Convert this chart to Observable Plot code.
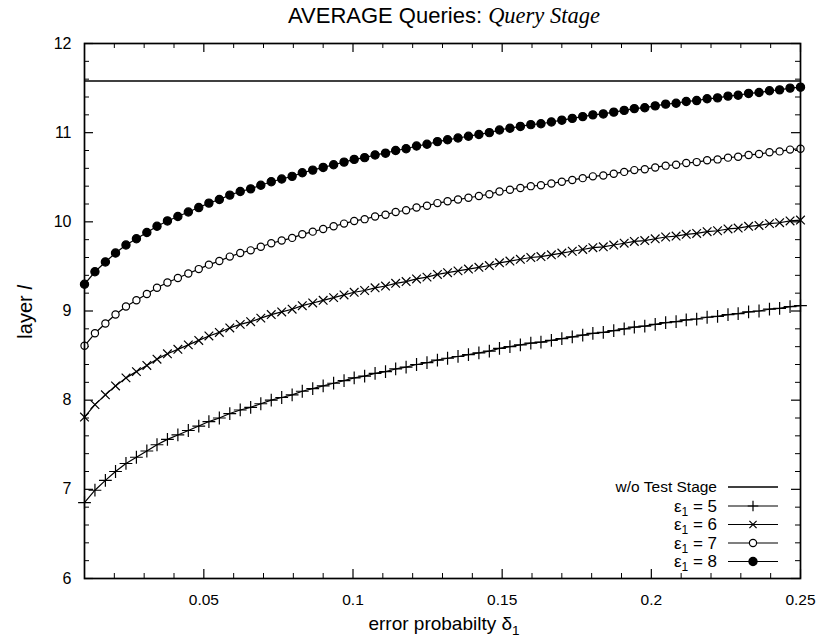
<!DOCTYPE html>
<html><head><meta charset="utf-8">
<script src="https://cdn.jsdelivr.net/npm/d3@7"></script>
<script src="https://cdn.jsdelivr.net/npm/@observablehq/plot@0.6"></script>
<style>body{margin:0;background:#fff}svg{display:block}</style>
</head><body><div id="chart"></div>
<script>
// ---- data ----
const delta = [0.0100,0.0135,0.0170,0.0204,0.0239,0.0274,0.0309,0.0343,0.0378,0.0413,0.0448,0.0483,0.0517,0.0552,0.0587,0.0622,0.0657,0.0691,0.0726,0.0761,0.0796,0.0830,0.0865,0.0900,0.0935,0.0970,0.1004,0.1039,0.1074,0.1109,0.1143,0.1178,0.1213,0.1248,0.1283,0.1317,0.1352,0.1387,0.1422,0.1457,0.1491,0.1526,0.1561,0.1596,0.1630,0.1665,0.1700,0.1735,0.1770,0.1804,0.1839,0.1874,0.1909,0.1943,0.1978,0.2013,0.2048,0.2083,0.2117,0.2152,0.2187,0.2222,0.2257,0.2291,0.2326,0.2361,0.2396,0.2430,0.2465,0.2500];
const eps8 = [9.30,9.44,9.55,9.65,9.74,9.81,9.88,9.95,10.01,10.06,10.11,10.16,10.21,10.25,10.30,10.34,10.37,10.41,10.45,10.48,10.51,10.55,10.58,10.61,10.64,10.67,10.70,10.72,10.75,10.77,10.80,10.82,10.85,10.87,10.90,10.92,10.94,10.96,10.98,11.00,11.03,11.05,11.07,11.09,11.10,11.12,11.14,11.16,11.18,11.20,11.21,11.23,11.25,11.27,11.28,11.30,11.32,11.33,11.35,11.36,11.38,11.39,11.41,11.42,11.44,11.45,11.47,11.48,11.50,11.51];
const eps7 = [8.61,8.75,8.86,8.96,9.05,9.12,9.19,9.26,9.32,9.37,9.42,9.47,9.52,9.56,9.61,9.65,9.68,9.72,9.76,9.79,9.82,9.86,9.89,9.92,9.95,9.98,10.01,10.03,10.06,10.08,10.11,10.13,10.16,10.18,10.21,10.23,10.25,10.27,10.29,10.31,10.34,10.36,10.38,10.40,10.41,10.43,10.45,10.47,10.49,10.51,10.52,10.54,10.56,10.58,10.59,10.61,10.63,10.64,10.66,10.67,10.69,10.70,10.72,10.73,10.75,10.76,10.78,10.79,10.81,10.82];
const eps6 = [7.81,7.95,8.06,8.16,8.25,8.32,8.39,8.46,8.52,8.57,8.62,8.67,8.72,8.76,8.81,8.85,8.88,8.92,8.96,8.99,9.02,9.06,9.09,9.12,9.15,9.18,9.21,9.23,9.26,9.28,9.31,9.33,9.36,9.38,9.41,9.43,9.45,9.47,9.49,9.51,9.54,9.56,9.58,9.60,9.61,9.63,9.65,9.67,9.69,9.71,9.72,9.74,9.76,9.78,9.79,9.81,9.83,9.84,9.86,9.87,9.89,9.90,9.92,9.93,9.95,9.96,9.98,9.99,10.01,10.02];
const eps5 = [6.85,6.99,7.10,7.20,7.29,7.36,7.43,7.50,7.56,7.61,7.66,7.71,7.76,7.80,7.85,7.89,7.92,7.96,8.00,8.03,8.06,8.10,8.13,8.16,8.19,8.22,8.25,8.27,8.30,8.32,8.35,8.37,8.40,8.42,8.45,8.47,8.49,8.51,8.53,8.55,8.58,8.60,8.62,8.64,8.65,8.67,8.69,8.71,8.73,8.75,8.76,8.78,8.80,8.82,8.83,8.85,8.87,8.88,8.90,8.91,8.93,8.94,8.96,8.97,8.99,9.00,9.02,9.03,9.05,9.06];
const withoutTestStage = 11.58;
const epsValues = [5, 6, 7, 8];
const xTicks = [0.05, 0.1, 0.15, 0.2, 0.25];
const xTickLabels = ["0.05", "0.1", "0.15", "0.2", "0.25"];
const xMinor = [0.01,0.02,0.03,0.04,0.06,0.07,0.08,0.09,0.11,0.12,0.13,0.14,0.16,0.17,0.18,0.19,0.21,0.22,0.23,0.24];
const yTicks = [6, 7, 8, 9, 10, 11, 12];
const yMinor = [6.2,6.4,6.6,6.8,7.2,7.4,7.6,7.8,8.2,8.4,8.6,8.8,9.2,9.4,9.6,9.8,10.2,10.4,10.6,10.8,11.2,11.4,11.6,11.8];
const titleMain = "AVERAGE Queries: ";
const titleItalic = "Query Stage";
const xLabel = "error probabilty δ";
const yLabel = "layer ";
const legendFirst = "w/o Test Stage";

// ---- build ----
const seriesVals = [eps5, eps6, eps7, eps8];
const symbols = ["plus", "times", "circle", "circle"];
const fills = ["none", "none", "white", "black"];
const radii = [4.2, 4.0, 3.6, 4.1];
const rows = [];
seriesVals.forEach((vals, s) => vals.forEach((v, i) => rows.push({delta: delta[i], value: v, series: epsValues[s]})));

const W = 824, H = 640, mL = 84, mR = 24, mT = 43, mB = 62;
const innerW = W - mL - mR, innerH = H - mT - mB;
const font = "'Liberation Sans', Arial, Helvetica, sans-serif";

const dotMarks = seriesVals.map((vals, s) =>
  Plot.dot(rows.filter(r => r.series === epsValues[s]), {
    x: "delta", y: "value", symbol: symbols[s],
    r: radii[s], stroke: "black", strokeWidth: 1.2, fill: fills[s]
  }));

const chart = Plot.plot({
  width: W, height: H,
  marginLeft: mL, marginRight: mR, marginTop: mT, marginBottom: mB,
  style: {fontFamily: font, fontSize: "15px", color: "black", background: "white"},
  x: {domain: [0.01, 0.25]},
  y: {domain: [6, 12]},
  marks: [
    Plot.axisX(xTicks, {tickSize: 0, tickPadding: 15, fontSize: 15.5, tickFormat: d => xTickLabels[xTicks.indexOf(d)], label: null}),
    Plot.axisY(yTicks, {tickSize: 0, tickPadding: 13, fontSize: 16, tickFormat: d => String(d), label: null}),
    // inward ticks on all four sides (gnuplot style)
    Plot.tickX(xTicks, {x: d => d, insetTop: innerH - 9, stroke: "black", strokeWidth: 1.2}),
    Plot.tickX(xTicks, {x: d => d, insetBottom: innerH - 9, stroke: "black", strokeWidth: 1.2}),
    Plot.tickX(xMinor, {x: d => d, insetTop: innerH - 5, stroke: "black", strokeWidth: 1}),
    Plot.tickX(xMinor, {x: d => d, insetBottom: innerH - 5, stroke: "black", strokeWidth: 1}),
    Plot.tickY(yTicks, {y: d => d, insetRight: innerW - 9, stroke: "black", strokeWidth: 1.2}),
    Plot.tickY(yTicks, {y: d => d, insetLeft: innerW - 9, stroke: "black", strokeWidth: 1.2}),
    Plot.tickY(yMinor, {y: d => d, insetRight: innerW - 5, stroke: "black", strokeWidth: 1}),
    Plot.tickY(yMinor, {y: d => d, insetLeft: innerW - 5, stroke: "black", strokeWidth: 1}),
    Plot.ruleY([withoutTestStage], {stroke: "black", strokeWidth: 1.4}),
    Plot.line(rows, {x: "delta", y: "value", z: "series", stroke: "black", strokeWidth: 1.2}),
    ...dotMarks,
    Plot.frame({stroke: "black", strokeWidth: 1.7})
  ]
});

const svg = d3.select(chart);
svg.attr("font-family", font);

// title
const title = svg.append("text").attr("x", 444).attr("y", 23).attr("text-anchor", "middle")
  .attr("fill", "black");
title.append("tspan").attr("font-family", font).attr("font-size", 22).text(titleMain);
title.append("tspan").attr("font-family", "'Liberation Serif', 'Times New Roman', serif")
  .attr("font-style", "italic").attr("font-size", 22.5).text(titleItalic);

// x label
const xl = svg.append("text").attr("x", 444).attr("y", 630).attr("text-anchor", "middle")
  .attr("font-size", 19).attr("fill", "black");
xl.append("tspan").text(xLabel);
xl.append("tspan").attr("dy", 5).attr("font-size", 13.5).text("1");

// y label
const yl = svg.append("text").attr("transform", "translate(32,312) rotate(-90)")
  .attr("text-anchor", "middle").attr("font-size", 20).attr("fill", "black");
yl.append("tspan").text(yLabel);
yl.append("tspan").attr("font-style", "italic").text("l");

// legend
const legendY = [487, 506, 524.5, 543, 561.5];
const lx0 = 728, lx1 = 778, lm = 753, ltx = 717;
const lg = svg.append("g").attr("font-size", 15.5).attr("fill", "black");
lg.append("text").attr("x", ltx).attr("y", legendY[0]).attr("dy", "0.35em").attr("text-anchor", "end").text(legendFirst);
lg.append("line").attr("x1", lx0).attr("x2", lx1).attr("y1", legendY[0]).attr("y2", legendY[0]).attr("stroke", "black").attr("stroke-width", 1.4);
const d3sym = {plus: d3.symbolPlus, times: d3.symbolTimes, circle: d3.symbolCircle};
epsValues.forEach((e, s) => {
  const y = legendY[s + 1];
  const t = lg.append("text").attr("x", ltx).attr("y", y).attr("dy", "0.35em").attr("text-anchor", "end").attr("font-size", 17);
  t.append("tspan").text("ε");
  t.append("tspan").attr("dy", 4).attr("font-size", 12).text("1");
  t.append("tspan").attr("dy", -4).text(" = " + e);
  lg.append("line").attr("x1", lx0).attr("x2", lx1).attr("y1", y).attr("y2", y).attr("stroke", "black").attr("stroke-width", 1.2);
  const r = radii[s];
  lg.append("path").attr("transform", `translate(${lm},${y})`)
    .attr("d", d3.symbol(d3sym[symbols[s]], symbols[s] === "circle" ? Math.PI * r * r : r * r * 2.2)())
    .attr("stroke", "black").attr("stroke-width", 1.2).attr("fill", fills[s]);
});

document.getElementById("chart").appendChild(chart);
</script>
</body></html>
